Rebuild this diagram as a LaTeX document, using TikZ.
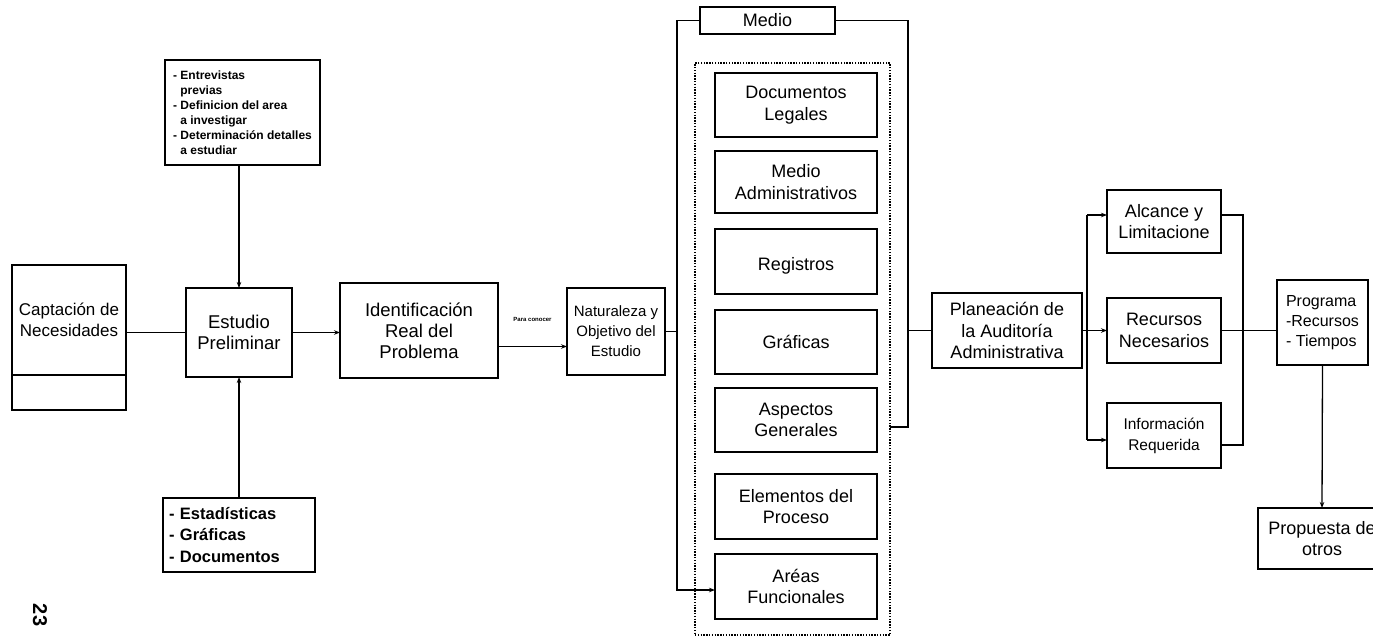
\documentclass[tikz,border=0pt]{standalone}
\usepackage{fontspec}
\setmainfont{Liberation Sans}
\usetikzlibrary{arrows.meta}
\begin{document}
\begin{tikzpicture}[x=1pt,y=-1pt,
  every node/.style={inner sep=0pt, outer sep=0pt},
  box/.style={draw, line width=1.4pt, align=center, font=\fontsize{18}{21.5}\selectfont},
  listbox/.style={draw, line width=1.4pt, align=left},
  conn/.style={line width=1.3pt},
  arr/.style={conn, -{Stealth[length=6pt,width=4.5pt]}},
]
\useasboundingbox (0,0) rectangle (1373,640);

% left column
\node[box, font=\fontsize{17}{21.5}\selectfont, minimum width=114pt, minimum height=110pt] (cap) at (69,320) {Captación de\\Necesidades};
\node[box, minimum width=114pt, minimum height=35pt] (capb) at (69,392.5) {};
\node[box, font=\fontsize{18.5}{21.5}\selectfont, minimum width=106pt, minimum height=89pt] (est) at (239,332.5) {Estudio\\Preliminar};
\node[listbox, font=\bfseries\fontsize{12}{15}\selectfont, minimum width=155pt, minimum height=105pt] (pre) at (242.5,112.5)
  {- Entrevistas\\\hspace*{0.6em}previas\\- Definicion del area\\\hspace*{0.6em}a investigar\\- Determinación detalles\\\hspace*{0.6em}a estudiar};
\node[listbox, font=\bfseries\fontsize{16.5}{21.5}\selectfont, inner xsep=6pt, text width=140pt, minimum height=74pt] (docs) at (239,535)
  {- Estadísticas\\- Gráficas\\- Documentos};
\node[box, font=\fontsize{18.5}{21}\selectfont, minimum width=158pt, minimum height=95pt] (ident) at (419,330.5) {Identificación\\Real del\\Problema};
\node[box, font=\fontsize{15}{20}\selectfont, minimum width=98pt, minimum height=87pt] (nat) at (616,331.5) {Naturaleza y\\Objetivo del\\Estudio};

% the "Medio" group
\node[box, minimum width=135pt, minimum height=27pt] (medio) at (767.5,20.5) {Medio};
\node[draw, line width=1.3pt, dash pattern=on 1.4pt off 1.4pt, minimum width=195pt, minimum height=572pt] (grp) at (792.5,349) {};
\node[box, minimum width=162pt, minimum height=64pt] (dl) at (796,105) {Documentos\\Legales};
\node[box, minimum width=162pt, minimum height=62pt] (ma) at (796,182) {Medio\\Administrativos};
\node[box, minimum width=162pt, minimum height=65pt] (reg) at (796,261.5) {~\\Registros};
\node[box, minimum width=162pt, minimum height=64pt] (gr) at (796,342) {Gráficas};
\node[box, minimum width=162pt, minimum height=64pt] (ag) at (796,420) {Aspectos\\Generales};
\node[box, minimum width=162pt, minimum height=65pt] (ep) at (796,506.5) {Elementos del\\Proceso};
\node[box, minimum width=162pt, minimum height=65pt] (af) at (796,586.5) {Aréas\\Funcionales};

% planning and its branches
\node[box, minimum width=150pt, minimum height=75pt] (plan) at (1007,330.5) {Planeación de\\la Auditoría\\Administrativa};
\node[box, minimum width=114pt, minimum height=63pt] (alc) at (1164,221.5) {Alcance y\\Limitacione};
\node[box, minimum width=114pt, minimum height=65pt] (rec) at (1164,330.5) {Recursos\\Necesarios};
\node[box, font=\fontsize{15.5}{21}\selectfont, minimum width=114pt, minimum height=65pt] (inf) at (1164,435.5) {Información\\Requerida};
\node[listbox, font=\fontsize{16}{20}\selectfont, minimum width=91pt, minimum height=85pt] (prog) at (1322.5,322.5) {Programa\\-Recursos\\- Tiempos};
\node[box, minimum width=128pt, minimum height=61pt] (prop) at (1322,538.5) {Propuesta de\\otros};

% page number
\node[font=\bfseries\fontsize{20}{20}\selectfont, rotate=-90] (pg) at (40,615) {23};

% bend points and connector ends
\coordinate (bBL) at (677,590);
\coordinate (bBR) at (908,427);
\coordinate (sp) at (1087,330);
\coordinate (cr) at (1243,330);
\coordinate (alcin) at ([yshift=6.5pt]alc.west);
\coordinate (infin) at ([yshift=-4.5pt]inf.west);
\coordinate (alcout) at ([yshift=6.5pt]alc.east);
\coordinate (infout) at ([yshift=-9.5pt]inf.east);
\coordinate (idout) at ([yshift=-16pt]ident.east);

% connectors
\draw[conn] (est.west -| cap.east) -- (est.west);
\draw[arr] (est.north |- pre.south) -- (est.north);
\draw[arr] (est.south |- docs.north) -- (est.south);
\draw[arr] (est.east) -- (est.east -| ident.west);
\draw[arr] (idout) -- (idout -| nat.west)
  node[midway, yshift=27pt, font=\bfseries\fontsize{6}{6}\selectfont] {Para conocer};
\draw[conn] (nat.east) -- (nat.east -| bBL);
\draw[arr] (medio.west) -| (bBL) -- (bBL -| af.west);
\draw[conn] (medio.east) -| (bBR) -- (bBR -| grp.east);
\draw[conn] (bBR |- plan.west) -- (plan.west);
\draw[arr] (plan.east) -- (rec.west);
\draw[arr] (sp |- alcin) -- (alcin);
\draw[arr] (sp |- infin) -- (infin);
\draw[conn] (sp |- alcin) -- (sp |- infin);
\draw[conn] (alcout) -| (cr) |- (infout);
\draw[conn] (rec.east) -- (rec.east -| prog.west);
\draw[arr] (prog.south) -- (prop.north);
\end{tikzpicture}
\end{document}
